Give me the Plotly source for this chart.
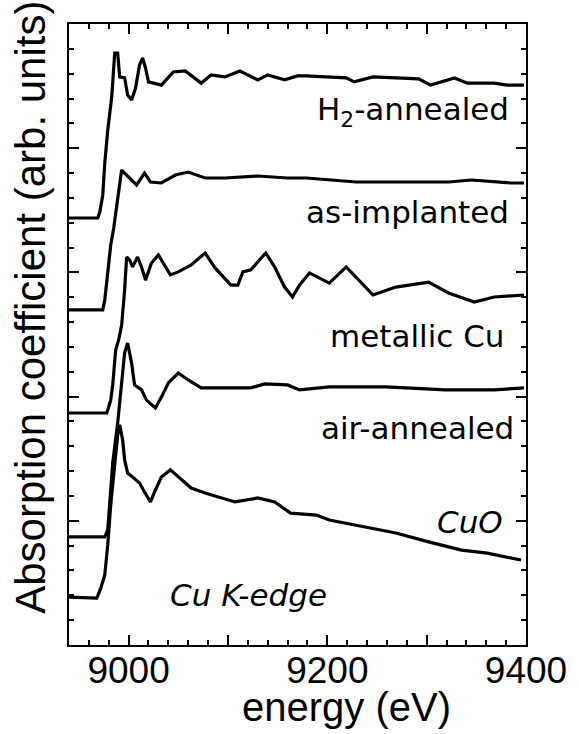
import plotly.graph_objects as go

# ---- data (energy in eV, absorption in arbitrary offset units) ----
E_h2 = [8940, 8969, 8971, 8974, 8976, 8979, 8983, 8985, 8986, 8989, 8991, 8996, 8999, 9003, 9007, 9011,
        9014, 9017, 9020, 9025, 9033, 9045, 9057, 9073, 9083, 9097, 9112, 9130, 9140, 9157, 9170, 9179,
        9219, 9227, 9246, 9292, 9304, 9328, 9341, 9368, 9381, 9398]
mu_h2 = [17.19, 17.19, 17.43, 18.12, 19.40, 20.73, 22.06, 23.15, 23.83, 23.83, 22.87, 22.83, 22.14, 21.94,
         22.42, 23.35, 23.63, 23.23, 22.67, 22.62, 22.54, 23.07, 23.11, 22.62, 22.95, 22.87, 23.11, 22.75,
         22.95, 22.75, 22.91, 22.91, 22.83, 22.67, 22.87, 22.79, 22.54, 22.83, 22.62, 22.62, 22.54, 22.54]

E_ai = [8940, 8974, 8976, 8979, 8982, 8985, 8988, 8991, 8993, 8998, 9003, 9008, 9016, 9022, 9033, 9047,
        9060, 9077, 9097, 9130, 9160, 9179, 9229, 9322, 9345, 9385, 9398]
mu_ai = [13.49, 13.49, 13.89, 15.10, 16.10, 16.79, 17.71, 18.72, 19.12, 18.92, 18.72, 18.52, 19.00, 18.64,
         18.60, 18.92, 19.04, 18.80, 18.80, 18.88, 18.80, 18.80, 18.64, 18.64, 18.72, 18.60, 18.60]

E_cu = [8940, 8978, 8979, 8982, 8984, 8987, 8990, 8993, 8996, 8998, 9001, 9004, 9009, 9013, 9017, 9023,
        9030, 9037, 9042, 9050, 9063, 9077, 9087, 9103, 9110, 9115, 9123, 9130, 9138, 9147, 9157, 9165,
        9172, 9182, 9202, 9219, 9229, 9246, 9269, 9302, 9322, 9348, 9368, 9398]
mu_cu = [9.34, 9.34, 9.46, 9.86, 10.47, 11.88, 12.28, 12.88, 14.29, 15.62, 15.50, 15.22, 15.62, 15.22,
         14.69, 15.38, 15.70, 15.22, 14.90, 15.02, 15.30, 15.78, 15.18, 14.49, 14.49, 15.02, 15.10, 15.42,
         15.78, 15.22, 14.41, 14.01, 14.49, 14.98, 14.57, 15.22, 14.81, 14.09, 14.41, 14.61, 14.17, 13.81,
         14.01, 14.09]

E_air = [8940, 8976, 8979, 8981, 8984, 8989, 8993, 8996, 8999, 9003, 9006, 9013, 9018, 9027, 9033, 9040,
         9050, 9060, 9073, 9097, 9123, 9137, 9160, 9172, 9202, 9259, 9319, 9368, 9398]
mu_air = [4.35, 4.35, 4.63, 5.84, 7.33, 8.94, 10.67, 11.76, 12.16, 11.35, 10.47, 10.27, 9.86, 9.54, 9.98,
          10.55, 10.95, 10.67, 10.35, 10.35, 10.35, 10.51, 10.47, 10.27, 10.39, 10.39, 10.27, 10.27, 10.35]

E_cuo = [8940, 8968, 8972, 8976, 8979, 8982, 8986, 8989, 8991, 8994, 8996, 8999, 9004, 9011, 9016, 9022,
         9027, 9033, 9042, 9050, 9063, 9077, 9090, 9107, 9130, 9147, 9163, 9179, 9189, 9202, 9236, 9269,
         9302, 9335, 9361, 9395]
mu_cuo = [1.93, 1.89, 2.29, 2.82, 4.03, 5.64, 7.25, 8.45, 8.86, 8.25, 7.45, 6.92, 6.76, 6.52, 6.16, 5.76,
          6.24, 6.76, 7.05, 6.76, 6.32, 6.12, 5.96, 5.76, 5.92, 5.76, 5.31, 5.27, 5.23, 5.03, 4.75, 4.51,
          4.15, 3.82, 3.70, 3.42]

series = [
    ("H2-annealed", E_h2, mu_h2),
    ("as-implanted", E_ai, mu_ai),
    ("metallic Cu", E_cu, mu_cu),
    ("air-annealed", E_air, mu_air),
    ("CuO", E_cuo, mu_cuo),
]

# labels: text, x (eV), y (units), anchor
labels = [
    ("H<sub>2</sub>-annealed", 9385, 21.48, "right"),
    ("as-implanted", 9385, 17.45, "right"),
    ("metallic Cu", 9380, 12.44, "right"),
    ("air-annealed", 9390, 8.74, "right"),
    ("<i>CuO</i>", 9379, 4.97, "right"),
    ("<i>Cu K-edge</i>", 9040, 2.01, "left"),
]

x_tickvals = [9000, 9100, 9200, 9300, 9400]
x_ticktext = ["9000", "", "9200", "", "9400"]

fig = go.Figure()
for name, xs, ys in series:
    fig.add_trace(go.Scatter(x=xs, y=ys, mode="lines", name=name,
                             line=dict(color="black", width=3.2), showlegend=False))

for text, x, y, anc in labels:
    fig.add_annotation(x=x, y=y, xref="x", yref="y", text=text, showarrow=False,
                       xanchor=anc, yanchor="middle",
                       font=dict(family="DejaVu Sans", size=31, color="black"))

fig.add_annotation(x=-0.084, y=0.544, xref="paper", yref="paper",
                   text="Absorption coefficient (arb. units)", textangle=-90, showarrow=False,
                   xanchor="center", yanchor="middle",
                   font=dict(family="Liberation Sans", size=42, color="black"))
fig.add_annotation(x=0.607, y=-0.10, xref="paper", yref="paper",
                   text="energy (eV)", showarrow=False, xanchor="center", yanchor="middle",
                   font=dict(family="Liberation Sans", size=40, color="black"))

axis_common = dict(showline=True, linecolor="black", linewidth=2, mirror="allticks",
                   ticks="inside", tickcolor="black", tickwidth=1.5, ticklen=10,
                   showgrid=False, zeroline=False)

fig.update_xaxes(range=[8940, 9400], tickvals=x_tickvals, ticktext=x_ticktext,
                 tickfont=dict(family="Liberation Sans", size=37, color="black"),
                 ticklabelstandoff=-8,
                 minor=dict(ticks="inside", dtick=20, tick0=9000, ticklen=5, tickwidth=1.5,
                            tickcolor="black", showgrid=False),
                 **axis_common)
fig.update_yaxes(range=[0, 25], dtick=5, tick0=0, showticklabels=False,
                 minor=dict(ticks="inside", dtick=1, tick0=0, ticklen=5, tickwidth=1.5,
                            tickcolor="black", showgrid=False),
                 **axis_common)

fig.update_layout(width=579, height=734, margin=dict(l=69, r=47, t=24, b=89),
                  paper_bgcolor="white", plot_bgcolor="white")

fig.write_html("out.html", config={"displayModeBar": False},
               post_script="document.body.style.margin='0px';")
